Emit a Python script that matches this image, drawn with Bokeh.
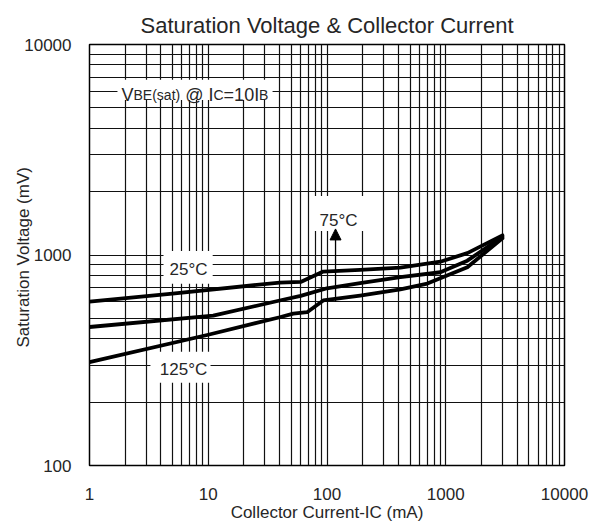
from bokeh.plotting import figure
from bokeh.models import (Range1d, FixedTicker, NumeralTickFormatter, Label,
                          BoxAnnotation, Arrow, NormalHead)
from bokeh.embed import file_html
from bokeh.resources import INLINE

# ---- data ----
ic_25 = [1, 5, 40, 60, 93, 190, 415, 900, 1520, 3000]
vsat_25 = [600, 655, 740, 745, 834, 849, 871, 929, 1021, 1240]

ic_75 = [1, 11, 40, 60, 100, 190, 415, 900, 1520, 3000]
vsat_75 = [455, 515, 608, 640, 695, 735, 785, 828, 940, 1220]

ic_125 = [1, 10, 40, 52, 68, 93, 190, 415, 700, 1520, 3000]
vsat_125 = [310, 418, 506, 527, 535, 608, 642, 686, 732, 875, 1200]

x_ticks = [1, 10, 100, 1000, 10000]
y_ticks = [100, 1000, 10000]

x_minor = [m * d for d in x_ticks[:-1] for m in range(2, 10)]
y_minor = [m * d for d in y_ticks[:-1] for m in range(2, 10)]

FONT = "Liberation Sans"
TXT = "#262626"

p = figure(width=600, height=524, x_axis_type="log", y_axis_type="log",
           x_range=Range1d(1, 10000), y_range=Range1d(100, 10000),
           output_backend="svg", toolbar_location=None,
           min_border_left=89, min_border_right=36,
           min_border_top=44, min_border_bottom=58)

p.title.text = "Saturation Voltage & Collector Current"
p.title.align = "center"
p.title.text_font = FONT
p.title.text_font_size = "22px"
p.title.text_font_style = "normal"
p.title.text_color = TXT
p.title.standoff = 13

xt = FixedTicker(ticks=x_ticks, minor_ticks=x_minor)
yt = FixedTicker(ticks=y_ticks, minor_ticks=y_minor)
p.xaxis.ticker = xt
p.yaxis.ticker = yt
p.xgrid.ticker = xt
p.ygrid.ticker = yt
p.xaxis.formatter = NumeralTickFormatter(format="0")
p.yaxis.formatter = NumeralTickFormatter(format="0")

for g in (p.xgrid, p.ygrid):
    g.grid_line_color = "#111111"
    g.grid_line_width = 1.2
    g.grid_line_alpha = 1.0
    g.minor_grid_line_color = "#111111"
    g.minor_grid_line_width = 1.2
    g.minor_grid_line_alpha = 1.0

for ax in (p.xaxis, p.yaxis):
    ax.axis_line_color = None
    ax.major_tick_line_color = None
    ax.minor_tick_line_color = None
    ax.major_label_text_font = FONT
    ax.major_label_text_font_size = "17px"
    ax.major_label_text_color = TXT
    ax.axis_label_text_font = FONT
    ax.axis_label_text_font_style = "normal"
    ax.axis_label_text_color = TXT

p.xaxis.major_label_standoff = 16
p.xaxis.axis_label_standoff = 0
p.yaxis.major_label_standoff = 12
p.yaxis.axis_label_standoff = -12
p.xaxis.axis_label = "Collector Current-IC (mA)"
p.xaxis.axis_label_text_font_size = "17px"
p.yaxis.axis_label = "Saturation Voltage  (mV)"
p.yaxis.axis_label_text_font_size = "17px"

p.outline_line_color = "black"
p.outline_line_width = 1.5
p.outline_line_alpha = 1.0
p.background_fill_color = "white"
p.border_fill_color = "white"

# ---- curves ----
for xs, ys in ((ic_25, vsat_25), (ic_75, vsat_75), (ic_125, vsat_125)):
    p.line(xs, ys, line_width=3.8, line_color="black",
           line_join="round", line_cap="round")

# ---- white boxes behind annotation texts ----
boxes = [
    (1.72, 34.8, 6800, 5450),    # VBE(sat) note
    (4.2, 10.9, 1045, 730),      # 25°C
    (3.26, 10.45, 347, 247),     # 125°C
    (72.6, 215, 1905, 1300),     # 75°C
]
for l, r, t, b in boxes:
    p.add_layout(BoxAnnotation(left=l, right=r, top=t, bottom=b,
                               fill_color="white", fill_alpha=1.0,
                               line_color=None))

# ---- note "VBE(sat) @ IC=10IB" built from pieces ----
pieces = [("V", 18, 0.0), ("BE(sat)", 14, 12.0), ("@ I", 18, 63.7),
          ("C", 14, 92.0), ("=10I", 18, 102.1), ("B", 14, 137.6)]
for t, fs, off in pieces:
    p.add_layout(Label(x=1.86, y=5733, x_offset=off, text=t,
                       text_font=FONT, text_font_size=f"{fs}px",
                       text_color=TXT, text_baseline="alphabetic",
                       text_align="left"))

# ---- temperature labels ----
for t, x, y in (("25°C", 6.82, 849), ("125°C", 6.19, 285), ("75°C", 125, 1466)):
    p.add_layout(Label(x=x, y=y, text=t, text_font=FONT, text_font_size="17px",
                       text_color=TXT, text_align="center",
                       text_baseline="middle"))

p.add_layout(Arrow(end=NormalHead(size=11, fill_color="black", line_color="black"),
                   x_start=118, y_start=600, x_end=118, y_end=1330,
                   line_width=1.3, line_color="black"))

open("out.html", "w").write(file_html(p, INLINE))
